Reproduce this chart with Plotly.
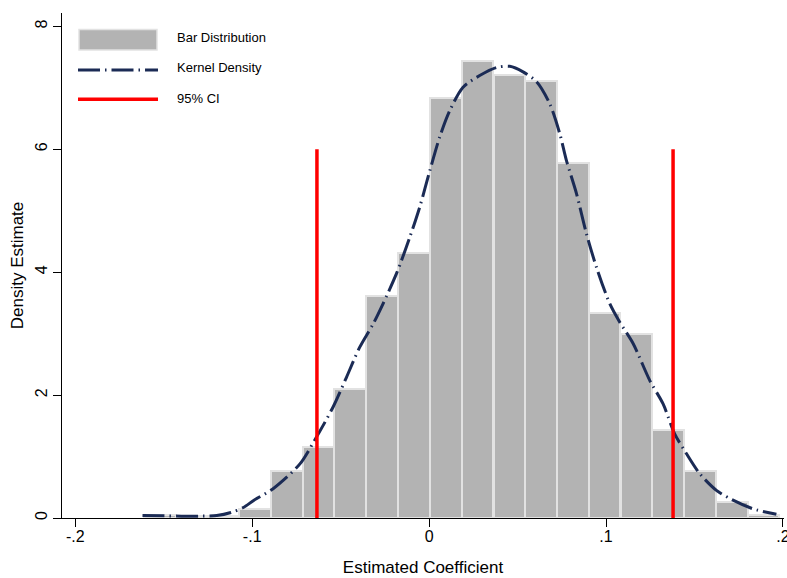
import plotly.graph_objects as go

# ---------------- data ----------------
bin_left = [-0.1612, -0.1433, -0.1253, -0.1073, -0.0894, -0.0714, -0.0535, -0.0355,
            -0.0175, 0.0004, 0.0184, 0.0364, 0.0543, 0.0723, 0.0902, 0.1082,
            0.1261, 0.1441, 0.1621, 0.1800]
bin_width = 0.01796
bar_density = [0.05, 0.04, 0.03, 0.14, 0.765, 1.155, 2.10, 3.61,
               4.32, 6.835, 7.43, 7.215, 7.11, 5.78, 3.33, 3.00,
               1.43, 0.76, 0.26, 0.055]

kd_x = [-0.162, -0.15, -0.14, -0.13, -0.12, -0.112, -0.105, -0.099, -0.088, -0.073,
        -0.0646, -0.0542, -0.0467, -0.0392, -0.0316, -0.026, -0.0184, -0.0109, -0.0053,
        0.0004, 0.006, 0.0117, 0.0192, 0.0286, 0.038, 0.0456, 0.0531, 0.0607, 0.0682,
        0.0738, 0.0776, 0.0833, 0.0889, 0.0946, 0.1021, 0.1077, 0.1153, 0.1247, 0.1322,
        0.1388, 0.1454, 0.153, 0.1624, 0.1718, 0.183, 0.1963]
kd_y = [0.04, 0.035, 0.03, 0.03, 0.04, 0.09, 0.17, 0.29, 0.48, 0.88,
        1.27, 1.81, 2.29, 2.78, 3.16, 3.49, 3.98, 4.57, 5.06,
        5.65, 6.20, 6.63, 7.01, 7.20, 7.33, 7.35, 7.26, 7.10, 6.74,
        6.26, 5.82, 5.28, 4.63, 4.08, 3.49, 3.19, 2.84, 2.24, 1.86,
        1.37, 1.05, 0.72, 0.45, 0.29, 0.15, 0.06]

ci_bounds = [-0.0634, 0.1379]
ci_height = 6

x_tickvals = [-0.2, -0.1, 0, 0.1, 0.2]
x_ticktext = ["-.2", "-.1", "0", ".1", ".2"]
y_tickvals = [0, 2, 4, 6, 8]
y_ticktext = ["0", "2", "4", "6", "8"]

legend_labels = ["Bar Distribution", "Kernel Density", "95% CI"]

# ---------------- styles ----------------
FONT = "Arial, Liberation Sans, sans-serif"
BAR_FILL = "#b3b3b3"
BAR_LINE = "#e2e2e2"
KD_COLOR = "#1b2b55"
KD_DASH = "22px,5px,1.5px,5px"
CI_COLOR = "#ff0000"

W, H = 787, 578
ML, MR, MT, MB = 62, 3, 13, 60
PW, PH = W - ML - MR, H - MT - MB

def px_x(p):
    return (p - ML) / PW

def px_y(p):
    return (H - MB - p) / PH

bar_centers = [b + bin_width / 2 for b in bin_left]

fig = go.Figure()
fig.add_trace(go.Bar(
    x=bar_centers, y=bar_density, width=bin_width,
    marker=dict(color=BAR_FILL, line=dict(color=BAR_LINE, width=2)),
    name=legend_labels[0], showlegend=False,
))
fig.add_trace(go.Scatter(
    x=kd_x, y=kd_y, mode="lines",
    line=dict(color=KD_COLOR, width=3, dash=KD_DASH, shape="spline", smoothing=0.8),
    name=legend_labels[1], showlegend=False,
))
ci_x, ci_y = [], []
for b in ci_bounds:
    ci_x += [b, b, None]
    ci_y += [0, ci_height, None]
fig.add_trace(go.Scatter(
    x=ci_x, y=ci_y, mode="lines",
    line=dict(color=CI_COLOR, width=3.5),
    name=legend_labels[2], showlegend=False,
))

# ---------------- manual legend (Stata style) ----------------
shapes = [
    dict(type="rect", xref="paper", yref="paper",
         x0=px_x(79), x1=px_x(157), y0=px_y(50), y1=px_y(29.5),
         fillcolor=BAR_FILL, line=dict(color=BAR_LINE, width=1.5)),
    dict(type="line", xref="paper", yref="paper",
         x0=px_x(78), x1=px_x(158), y0=px_y(70), y1=px_y(70),
         line=dict(color=KD_COLOR, width=3, dash=KD_DASH)),
    dict(type="line", xref="paper", yref="paper",
         x0=px_x(78), x1=px_x(158), y0=px_y(99.3), y1=px_y(99.3),
         line=dict(color=CI_COLOR, width=3.5)),
]
annotations = []
for lbl, yc in zip(legend_labels, [37.7, 67.7, 98.3]):
    annotations.append(dict(
        text=lbl, xref="paper", yref="paper", x=px_x(175), y=px_y(yc),
        xanchor="left", yanchor="middle", showarrow=False,
        font=dict(family=FONT, size=13, color="#000000"),
    ))

fig.update_layout(
    width=W, height=H,
    margin=dict(l=ML, r=MR, t=MT, b=MB),
    paper_bgcolor="white", plot_bgcolor="white",
    showlegend=False, bargap=0,
    font=dict(family=FONT, color="#000000"),
    shapes=shapes, annotations=annotations,
)
fig.update_xaxes(
    range=[-0.2075, 0.2006], tickvals=x_tickvals, ticktext=x_ticktext,
    ticks="outside", ticklen=8, tickwidth=1, tickcolor="#000000",
    showline=True, linecolor="#000000", linewidth=1,
    showgrid=False, zeroline=False, automargin=False,
    tickfont=dict(size=16), ticklabelstandoff=-4, ticklabeloverflow="allow",
    title=dict(text="Estimated Coefficient", font=dict(size=17), standoff=16),
)
fig.update_yaxes(
    range=[0, 8.218], tickvals=y_tickvals, ticktext=y_ticktext, tickangle=-90,
    ticks="outside", ticklen=8, tickwidth=1, tickcolor="#000000",
    showline=True, linecolor="#000000", linewidth=1,
    showgrid=False, zeroline=False, automargin=False,
    tickfont=dict(size=16),
    title=dict(text="Density Estimate", font=dict(size=17), standoff=4),
)

fig.write_html(
    "out.html",
    config={"displayModeBar": False},
    post_script="document.body.style.margin='0px';document.body.style.overflow='hidden';",
)
